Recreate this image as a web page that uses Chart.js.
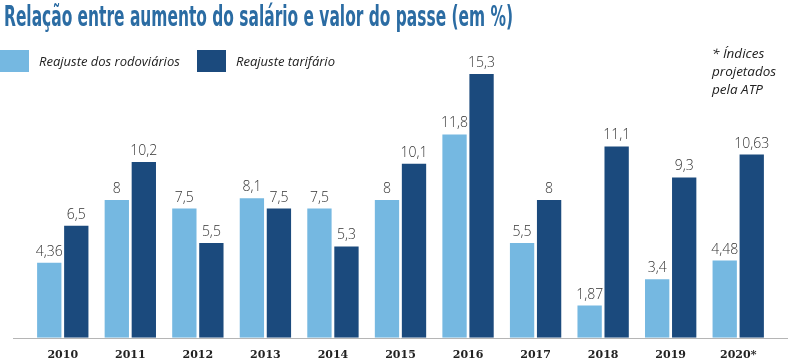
<!DOCTYPE html>
<html>
<head>
<meta charset="utf-8">
<script src="https://cdn.jsdelivr.net/npm/chart.js@4/dist/chart.umd.min.js"></script>
<style>
  html, body { margin: 0; padding: 0; background: #fff; }
  #wrap { position: relative; width: 800px; height: 363px; overflow: hidden; }
  #chart { position: absolute; left: 0; top: 0; }
  #title {
    position: absolute; left: 4px; top: 0px; white-space: nowrap;
    font-family: "Liberation Sans Narrow", "DejaVu Sans Condensed", Roboto, sans-serif;
    font-stretch: condensed; font-weight: bold; font-size: 28px; color: #2b6ca3;
    transform-origin: left top;
  }
  .leg { position: absolute; top: 50px; height: 22px; }
  .leg .box { position: absolute; left: 0; top: 0; width: 29px; height: 22px; }
  .leg .txt {
    position: absolute; left: 39px; top: 2px; white-space: nowrap;
    font-family: "Open Sans", sans-serif; font-style: italic; font-size: 13px; color: #222;
  }
  #note {
    position: absolute; left: 712px; top: 44px; line-height: 18px;
    font-family: "Open Sans", sans-serif; font-style: italic; font-size: 13.5px; color: #222;
  }
</style>
</head>
<body>
<div id="wrap">
  <canvas id="chart" width="800" height="363"></canvas>
  <div id="title">Relação entre aumento do salário e valor do passe (em %)</div>
  <div id="legend"></div>
  <div id="note">* Índices<br>projetados<br>pela ATP</div>
</div>
<script>
// dados
const years = ["2010", "2011", "2012", "2013", "2014", "2015", "2016", "2017", "2018", "2019", "2020*"];
const rodoviarios = [4.36, 8, 7.5, 8.1, 7.5, 8, 11.8, 5.5, 1.87, 3.4, 4.48];
const tarifario = [6.5, 10.2, 5.5, 7.5, 5.3, 10.1, 15.3, 8, 11.1, 9.3, 10.63];
const seriesNames = ["Reajuste dos rodoviários", "Reajuste tarifário"];
const seriesColors = ["#75b8e1", "#1b4a7d"];

// fit title to its width in the picture
const title = document.getElementById("title");
const tw = title.getBoundingClientRect().width;
title.style.transform = "scaleX(" + (509 / tw) + ")";

// legend as html
const legendEl = document.getElementById("legend");
const legLeft = [0, 197];
seriesNames.forEach((name, i) => {
  const d = document.createElement("div");
  d.className = "leg";
  d.style.left = legLeft[i] + "px";
  d.innerHTML = '<div class="box" style="background:' + seriesColors[i] + '"></div><div class="txt">' + name + '</div>';
  legendEl.appendChild(d);
});

const fmt = (v) => String(v).replace(".", ",");

const baseLine = {
  id: "baseLine",
  beforeDatasetsDraw(chart) {
    const ctx = chart.ctx;
    const y = chart.scales.y.getPixelForValue(0);
    ctx.save();
    ctx.strokeStyle = "#b5b5b5";
    ctx.lineWidth = 1;
    ctx.beginPath();
    ctx.moveTo(13, Math.round(y) + 0.5);
    ctx.lineTo(788, Math.round(y) + 0.5);
    ctx.stroke();
    ctx.restore();
  },
};

const valueLabels = {
  id: "valueLabels",
  afterDatasetsDraw(chart) {
    const ctx = chart.ctx;
    ctx.save();
    ctx.font = "300 14px 'Open Sans', sans-serif";
    ctx.fillStyle = "#333";
    ctx.textAlign = "center";
    ctx.textBaseline = "bottom";
    chart.data.datasets.forEach((ds, i) => {
      chart.getDatasetMeta(i).data.forEach((bar, j) => {
        ctx.fillText(fmt(ds.data[j]), bar.x, bar.y - 4);
      });
    });
    ctx.restore();
  },
};

new Chart(document.getElementById("chart"), {
  type: "bar",
  data: {
    labels: years,
    datasets: [
      { label: seriesNames[0], data: rodoviarios, backgroundColor: seriesColors[0] },
      { label: seriesNames[1], data: tarifario, backgroundColor: seriesColors[1] },
    ],
  },
  options: {
    responsive: false,
    animation: false,
    events: [],
    layout: { padding: { left: 29, right: 28, top: 62, bottom: -10 } },
    datasets: { bar: { categoryPercentage: 0.8, barPercentage: 0.9 } },
    plugins: { legend: { display: false }, title: { display: false }, tooltip: { enabled: false } },
    scales: {
      x: {
        grid: { display: false, drawTicks: false },
        border: { display: false },
        ticks: {
          padding: 11,
          color: "#222",
          font: { family: "'DejaVu Serif', serif", weight: "bold", size: 11 },
        },
      },
      y: { display: false, min: 0, max: 16 },
    },
  },
  plugins: [baseLine, valueLabels],
});
</script>
</body>
</html>
